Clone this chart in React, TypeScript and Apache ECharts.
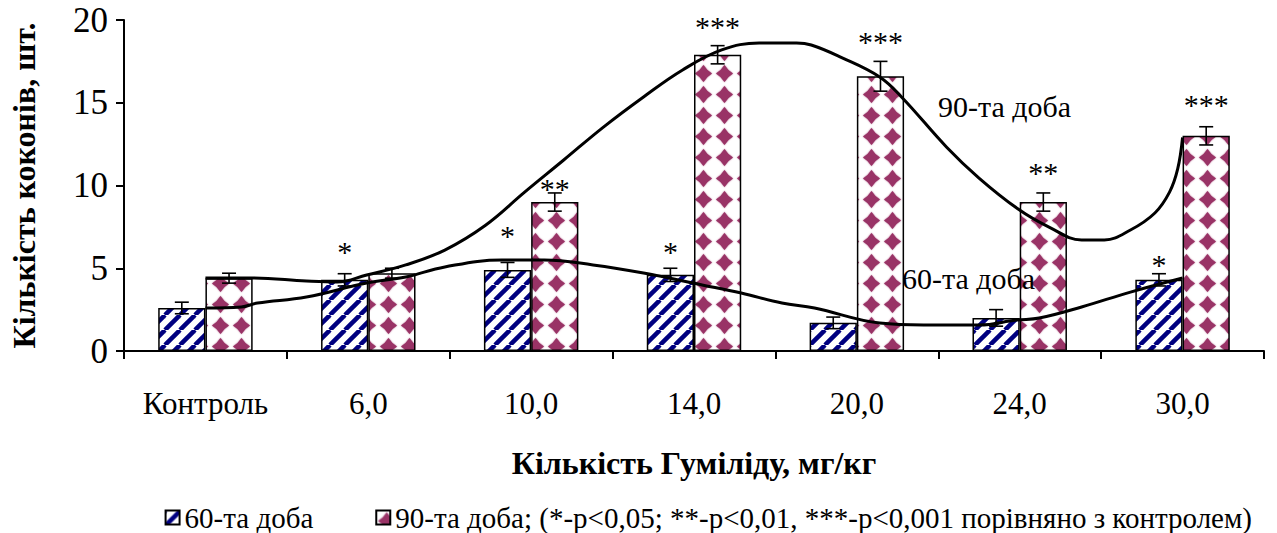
import React, { useEffect, useRef } from "react";
import * as echarts from "echarts";

const categories = ["Контроль", "6,0", "10,0", "14,0", "20,0", "24,0", "30,0"];
const day60 = [2.6, 4.3, 4.9, 4.6, 1.7, 2.0, 4.3];
const day60Err = [0.35, 0.37, 0.45, 0.4, 0.35, 0.5, 0.37];
const day90 = [4.4, 4.7, 9.0, 17.9, 16.6, 9.0, 13.0];
const day90Err = [0.3, 0.3, 0.55, 0.55, 0.9, 0.55, 0.55];
const stars60 = ["", "*", "*", "*", "", "", "*"];
const stars90 = ["", "", "**", "***", "***", "**", "***"];
const starLevel60 = [0, 6.0, 7.0, 6.0, 0, 0, 5.2];
const starLevel90 = [0, 0, 9.8, 19.6, 18.7, 10.8, 14.9];

// smoothed trend curves, x in category units (category i centre = i + 0.5)
const trend90X = [0.5, 0.79, 1.12, 1.31, 1.49, 1.73, 1.97, 2.22, 2.46, 2.7, 2.94, 3.19, 3.43, 3.67, 3.9, 4.13, 4.22, 4.4, 4.64, 4.78, 5.05, 5.25, 5.49, 5.68, 5.88, 6.02, 6.18, 6.33, 6.42, 6.47, 6.5];
const trend90Y = [4.41, 4.41, 4.23, 4.17, 4.59, 5.2, 6.1, 7.6, 9.6, 11.54, 13.5, 15.35, 16.98, 18.19, 18.61, 18.61, 18.49, 17.76, 16.56, 15.29, 12.33, 10.45, 8.58, 7.49, 6.71, 6.71, 7.31, 8.34, 9.6, 11.0, 12.9];
const trend60X = [0.5, 0.72, 0.82, 1.12, 1.49, 1.73, 1.97, 2.32, 2.58, 2.88, 3.19, 3.55, 3.79, 4.04, 4.24, 4.64, 4.91, 5.25, 5.48, 5.62, 5.88, 6.18, 6.5];
const trend60Y = [2.6, 2.66, 2.9, 3.26, 4.11, 4.47, 5.08, 5.5, 5.5, 5.2, 4.71, 3.99, 3.5, 2.9, 2.6, 1.69, 1.57, 1.57, 1.87, 1.99, 2.66, 3.56, 4.41];

const yTicks = { min: 0, max: 20, interval: 5 };
const name60 = "60-та доба";
const name90 = "90-та доба; (*-p<0,05; **-p<0,01, ***-p<0,001 порівняно з контролем)";
const xTitle = "Кількість Гуміліду, мг/кг";
const yTitle = "Кількість коконів, шт.";
const lineLabel90 = "90-та доба";
const lineLabel60 = "60-та доба";

const FONT = "Liberation Serif";
const BAR_FRAC = 0.29;

function stripePattern() {
  const s = 15;
  const c = document.createElement("canvas");
  c.width = s;
  c.height = s;
  const ctx = c.getContext("2d")!;
  ctx.fillStyle = "#fff";
  ctx.fillRect(0, 0, s, s);
  ctx.strokeStyle = "#000080";
  ctx.lineWidth = 4.5;
  for (let k = -1; k <= 1; k++) {
    ctx.beginPath();
    ctx.moveTo(k * s, s);
    ctx.lineTo(k * s + s, 0);
    ctx.stroke();
  }
  return { image: c.toDataURL(), imageWidth: s, imageHeight: s, repeat: "repeat" };
}

function diamondPattern() {
  const s = 21;
  const c = document.createElement("canvas");
  c.width = s;
  c.height = s;
  const ctx = c.getContext("2d")!;
  ctx.fillStyle = "#fff";
  ctx.fillRect(0, 0, s, s);
  ctx.fillStyle = "#993366";
  ctx.shadowColor = "#993366";
  ctx.shadowBlur = 1.5;
  const cx = s / 2, cy = s / 2, r = 8.5, w = 3.2;
  ctx.beginPath();
  ctx.moveTo(cx, cy - r);
  ctx.quadraticCurveTo(cx + w, cy - w, cx + r, cy);
  ctx.quadraticCurveTo(cx + w, cy + w, cx, cy + r);
  ctx.quadraticCurveTo(cx - w, cy + w, cx - r, cy);
  ctx.quadraticCurveTo(cx - w, cy - w, cx, cy - r);
  ctx.fill();
  return { image: c.toDataURL(), imageWidth: s, imageHeight: s, repeat: "repeat" };
}

function errorSeries(values: number[], errs: number[], stars: string[], levels: number[], side: number) {
  return {
    type: "custom",
    xAxisIndex: 0,
    yAxisIndex: 0,
    z: 5,
    silent: true,
    data: values.map((v, i) => [i, v, errs[i]]),
    renderItem: (params: any, api: any) => {
      const i = api.value(0);
      const v = api.value(1);
      const e = api.value(2);
      const band = api.size([1, 0])[0];
      const dx = (side * band * BAR_FRAC) / 2;
      const top = api.coord([i, v + e]);
      const bot = api.coord([i, v - e]);
      const x = top[0] + dx;
      const cap = 7;
      const ls = { stroke: "#000", lineWidth: 1.6 };
      const children: any[] = [
        { type: "line", shape: { x1: x, y1: top[1], x2: x, y2: bot[1] }, style: ls },
        { type: "line", shape: { x1: x - cap, y1: top[1], x2: x + cap, y2: top[1] }, style: ls },
        { type: "line", shape: { x1: x - cap, y1: bot[1], x2: x + cap, y2: bot[1] }, style: ls },
      ];
      const idx = params.dataIndex;
      if (stars[idx]) {
        const p = api.coord([i, levels[idx]]);
        children.push({
          type: "text",
          x: p[0] + dx,
          y: p[1],
          style: {
            text: stars[idx],
            fontSize: 30,
            fontFamily: FONT,
            fill: "#000",
            align: "center",
            verticalAlign: "middle",
          },
        });
      }
      return { type: "group", children };
    },
  };
}

export default function App() {
  const ref = useRef<HTMLDivElement>(null);
  useEffect(() => {
    if (!ref.current) return;
    const chart = echarts.init(ref.current, null, { renderer: "svg" });
    const stripes = stripePattern();
    const diamonds = diamondPattern();
    const axisLineStyle = { color: "#000", width: 2 };
    chart.setOption({
      animation: false,
      backgroundColor: "#fff",
      textStyle: { fontFamily: FONT, color: "#000" },
      grid: { left: 114, right: 13, top: 20, bottom: 182, containLabel: false },
      legend: {
        data: [name60, name90],
        right: 20,
        top: 498,
        itemWidth: 14,
        itemHeight: 14,
        itemGap: 62,
        icon: "rect",
        textStyle: { fontSize: 29, fontFamily: FONT, color: "#000" },
      },
      xAxis: [
        {
          type: "category",
          data: categories,
          boundaryGap: true,
          axisLine: { lineStyle: axisLineStyle },
          axisTick: { show: true, alignWithLabel: false, length: 8, lineStyle: axisLineStyle },
          axisLabel: { interval: 0, fontSize: 31, fontFamily: FONT, color: "#000", margin: 37 },
          splitLine: { show: false },
          name: xTitle,
          nameLocation: "middle",
          nameGap: 96,
          nameTextStyle: { fontSize: 32, fontWeight: "bold", fontFamily: FONT, color: "#000" },
        },
        { type: "value", min: 0, max: 7, show: false },
      ],
      yAxis: {
        type: "value",
        min: yTicks.min,
        max: yTicks.max,
        interval: yTicks.interval,
        axisLine: { show: true, lineStyle: axisLineStyle },
        axisTick: { show: true, length: 8, lineStyle: axisLineStyle },
        axisLabel: { fontSize: 35, fontFamily: FONT, color: "#000", margin: 16 },
        splitLine: { show: false },
        name: yTitle,
        nameLocation: "middle",
        nameGap: 84,
        nameRotate: 90,
        nameTextStyle: { fontSize: 32, fontWeight: "bold", fontFamily: FONT, color: "#000" },
      },
      graphic: [
        { type: "text", z: 100, left: 938, top: 91, style: { text: lineLabel90, fontSize: 30, fontFamily: FONT, fill: "#000" } },
        { type: "text", z: 100, left: 902, top: 263, style: { text: lineLabel60, fontSize: 30, fontFamily: FONT, fill: "#000" } },
      ],
      series: [
        {
          name: name60,
          type: "bar",
          data: day60,
          barWidth: `${BAR_FRAC * 100}%`,
          barGap: "0%",
          itemStyle: { color: stripes, borderColor: "#000", borderWidth: 1.5 },
        },
        {
          name: name90,
          type: "bar",
          data: day90,
          barWidth: `${BAR_FRAC * 100}%`,
          barGap: "0%",
          itemStyle: { color: diamonds, borderColor: "#000", borderWidth: 1.5 },
        },
        errorSeries(day60, day60Err, stars60, starLevel60, -1),
        errorSeries(day90, day90Err, stars90, starLevel90, 1),
        {
          name: "trend60",
          type: "line",
          xAxisIndex: 1,
          yAxisIndex: 0,
          smooth: 0.4,
          symbol: "none",
          z: 6,
          lineStyle: { color: "#000", width: 3 },
          data: trend60X.map((x, i) => [x, trend60Y[i]]),
        },
        {
          name: "trend90",
          type: "line",
          xAxisIndex: 1,
          yAxisIndex: 0,
          smooth: 0.4,
          symbol: "none",
          z: 6,
          lineStyle: { color: "#000", width: 3 },
          data: trend90X.map((x, i) => [x, trend90Y[i]]),
        },
      ],
    });
    return () => chart.dispose();
  }, []);
  return (
    <div
      ref={ref}
      style={{ position: "absolute", left: 0, top: 0, width: 1277, height: 533 }}
    />
  );
}
